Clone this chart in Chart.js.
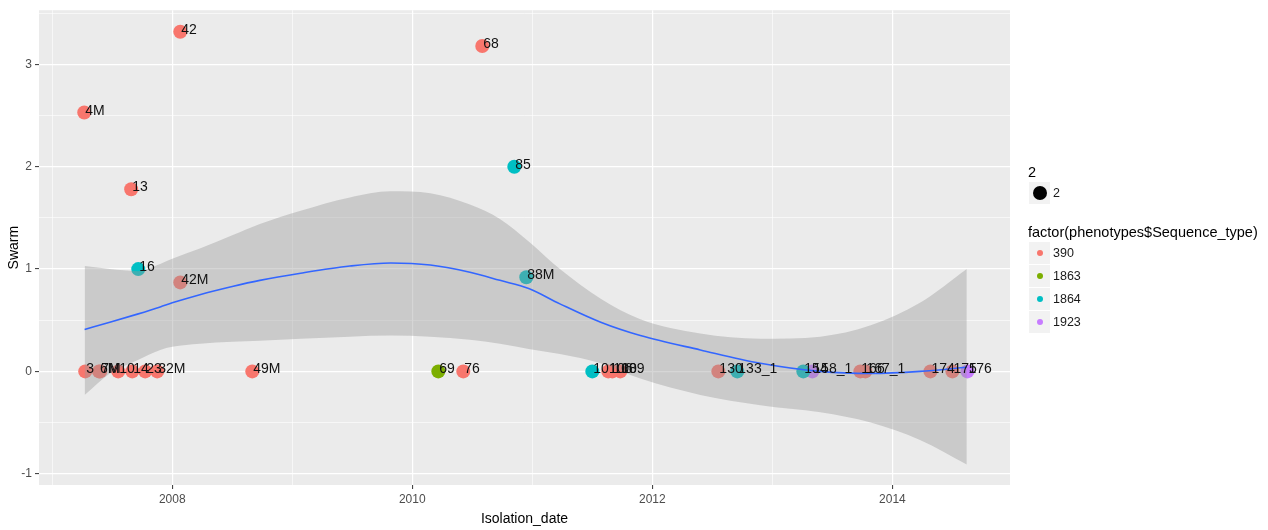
<!DOCTYPE html>
<html>
<head>
<meta charset="utf-8">
<script src="https://cdn.jsdelivr.net/npm/chart.js@4/dist/chart.umd.min.js"></script>
<style>
  html, body { margin: 0; padding: 0; background: #fff; }
  #wrap { position: relative; width: 1268px; height: 530px; font-family: "Liberation Sans", Arial, sans-serif; }
  #c { position: absolute; left: 0; top: 0; }
  .lt { position: absolute; color: #000; white-space: nowrap; }
  .key { position: absolute; width: 21px; height: 22px; background: #F2F2F2; }
  .dot { position: absolute; border-radius: 50%; }
  .kl { position: absolute; font-size: 12.5px; color: #1a1a1a; white-space: nowrap; line-height: 22px; }
</style>
</head>
<body>
<div id="wrap">
  <canvas id="c" width="1268" height="530"></canvas>
  <div id="legend"></div>
</div>
<script>
// Isolates per sequence type: label, isolation date (decimal year), swarm score
const st390Labels = ['3', '4M', '6M', '7M', '10', '13', '14', '23', '32M', '42', '42M', '49M', '68', '76', '106', '108', '109', '130', '166', '167_1', '174', '175'];
const st390Dates  = [2007.275, 2007.267, 2007.39, 2007.40, 2007.55, 2007.658, 2007.667, 2007.775, 2007.875, 2008.067, 2008.067, 2008.667, 2010.583, 2010.425, 2011.633, 2011.667, 2011.733, 2012.55, 2013.733, 2013.775, 2014.317, 2014.5];
const st390Swarm  = [0, 2.53, 0, 0, 0, 1.78, 0, 0, 0, 3.32, 0.87, 0, 3.18, 0, 0, 0, 0, 0, 0, 0, 0, 0];

const st1863Labels = ['69'];
const st1863Dates  = [2010.217];
const st1863Swarm  = [0];

const st1864Labels = ['16', '85', '88M', '101', '133_1', '154'];
const st1864Dates  = [2007.717, 2010.85, 2010.95, 2011.5, 2012.708, 2013.258];
const st1864Swarm  = [1.0, 2.0, 0.92, 0, 0, 0];

const st1923Labels = ['158_1', '176'];
const st1923Dates  = [2013.333, 2014.625];
const st1923Swarm  = [0, 0];

// Loess smoother with its confidence band
const smoothDates = [2007.27, 2007.48, 2007.71, 2007.9, 2008.0, 2008.23, 2008.5, 2008.73, 2009.07, 2009.48, 2009.82, 2010.15, 2010.48, 2010.73, 2010.97, 2011.23, 2011.57, 2011.9, 2012.4, 2012.9, 2013.4, 2013.82, 2014.23, 2014.62];
const smoothFit   = [0.41, 0.48, 0.56, 0.63, 0.67, 0.75, 0.83, 0.89, 0.96, 1.03, 1.06, 1.04, 0.97, 0.89, 0.81, 0.66, 0.48, 0.35, 0.21, 0.08, 0.0, -0.02, 0.0, 0.04];
const smoothUpper = [1.03, 1.0, 0.98, 1.05, 1.10, 1.20, 1.33, 1.44, 1.57, 1.70, 1.76, 1.74, 1.63, 1.49, 1.27, 1.0, 0.71, 0.51, 0.37, 0.32, 0.34, 0.45, 0.67, 1.0];
const smoothLower = [-0.23, -0.02, 0.11, 0.21, 0.24, 0.27, 0.29, 0.30, 0.32, 0.34, 0.35, 0.34, 0.31, 0.27, 0.22, 0.17, 0.08, -0.07, -0.23, -0.33, -0.40, -0.50, -0.67, -0.91];

const xTicks = [2007, 2008, 2009, 2010, 2011, 2012, 2013, 2014];
const yTicks = [-1, -0.5, 0, 0.5, 1, 1.5, 2, 2.5, 3, 3.5];

const seqTypes  = ['390', '1863', '1864', '1923'];
const seqColors = ['#F8766D', '#7CAE00', '#00BFC4', '#C77CFF'];

function pts(dates, vals) { return dates.map((d, i) => ({ x: d, y: vals[i] })); }

const groups = [
  [st390Labels, st390Dates, st390Swarm],
  [st1863Labels, st1863Dates, st1863Swarm],
  [st1864Labels, st1864Dates, st1864Swarm],
  [st1923Labels, st1923Dates, st1923Swarm]
];

const pointSets = groups.map((g, k) => ({
  label: seqTypes[k],
  data: pts(g[1], g[2]),
  pointLabels: g[0],
  backgroundColor: seqColors[k],
  borderColor: seqColors[k],
  borderWidth: 0,
  pointRadius: 7,
  showLine: false,
  order: 3
}));

const panelBg = {
  id: 'panelBg',
  beforeDraw(chart) {
    const { ctx, chartArea: a } = chart;
    ctx.save();
    ctx.fillStyle = '#EBEBEB';
    ctx.fillRect(a.left, a.top, a.right - a.left, a.bottom - a.top);
    ctx.restore();
  }
};

const isolateText = {
  id: 'isolateText',
  afterDatasetsDraw(chart) {
    const ctx = chart.ctx;
    ctx.save();
    ctx.font = '14px "Liberation Sans", Arial, sans-serif';
    ctx.fillStyle = '#111';
    ctx.textAlign = 'left';
    ctx.textBaseline = 'alphabetic';
    chart.data.datasets.forEach((ds, i) => {
      if (!ds.pointLabels) return;
      const meta = chart.getDatasetMeta(i);
      meta.data.forEach((el, j) => {
        ctx.fillText(ds.pointLabels[j], el.x + 1, el.y + 2);
      });
    });
    ctx.restore();
  }
};

const isMajorY = v => Number.isInteger(v);
const isMajorX = v => v % 2 === 0;

new Chart(document.getElementById('c'), {
  type: 'scatter',
  data: {
    datasets: [
      {
        label: 'fit',
        data: pts(smoothDates, smoothFit),
        showLine: true,
        borderColor: '#3366FF',
        borderWidth: 1.6,
        pointRadius: 0,
        cubicInterpolationMode: 'monotone',
        fill: false,
        order: 0
      },
      {
        label: 'upper',
        data: pts(smoothDates, smoothUpper),
        showLine: true,
        borderWidth: 0,
        borderColor: 'rgba(0,0,0,0)',
        pointRadius: 0,
        cubicInterpolationMode: 'monotone',
        fill: '+1',
        backgroundColor: 'rgba(153,153,153,0.4)',
        order: 1
      },
      {
        label: 'lower',
        data: pts(smoothDates, smoothLower),
        showLine: true,
        borderWidth: 0,
        borderColor: 'rgba(0,0,0,0)',
        pointRadius: 0,
        cubicInterpolationMode: 'monotone',
        fill: false,
        order: 2
      },
      ...pointSets
    ]
  },
  options: {
    responsive: false,
    animation: false,
    devicePixelRatio: 1,
    layout: { padding: { left: 0, top: 7, right: 258, bottom: 0 } },
    plugins: {
      legend: { display: false },
      tooltip: { enabled: false },
      filler: { drawTime: 'beforeDatasetDraw' }
    },
    scales: {
      x: {
        type: 'linear',
        min: 2006.89,
        max: 2014.98,
        afterBuildTicks: s => { s.ticks = xTicks.map(v => ({ value: v })); },
        afterFit: s => { s.height = 45; },
        border: { display: false },
        grid: {
          color: '#FFFFFF',
          lineWidth: c => (isMajorX(c.tick.value) ? 1.2 : 0.6),
          tickColor: c => (isMajorX(c.tick.value) ? '#333333' : 'rgba(0,0,0,0)'),
          tickLength: 4,
          tickWidth: 1
        },
        ticks: {
          autoSkip: false,
          maxRotation: 0,
          padding: 3,
          color: '#4D4D4D',
          font: { family: '"Liberation Sans", Arial, sans-serif', size: 12 },
          callback: v => (isMajorX(v) ? String(v) : '')
        },
        title: {
          display: true,
          text: 'Isolation_date',
          color: '#000',
          padding: { top: 0, bottom: 2 },
          font: { family: '"Liberation Sans", Arial, sans-serif', size: 14 }
        }
      },
      y: {
        type: 'linear',
        min: -1.11,
        max: 3.53,
        afterBuildTicks: s => { s.ticks = yTicks.map(v => ({ value: v })); },
        afterFit: s => { s.width = 39; },
        border: { display: false },
        grid: {
          color: '#FFFFFF',
          lineWidth: c => (isMajorY(c.tick.value) ? 1.2 : 0.6),
          tickColor: c => (isMajorY(c.tick.value) ? '#333333' : 'rgba(0,0,0,0)'),
          tickLength: 4,
          tickWidth: 1
        },
        ticks: {
          autoSkip: false,
          padding: 3,
          color: '#4D4D4D',
          font: { family: '"Liberation Sans", Arial, sans-serif', size: 12 },
          callback: v => (isMajorY(v) ? String(v) : '')
        },
        title: {
          display: true,
          text: 'Swarm',
          color: '#000',
          padding: { top: 6, bottom: 0 },
          font: { family: '"Liberation Sans", Arial, sans-serif', size: 14 }
        }
      }
    }
  },
  plugins: [panelBg, isolateText]
});

// Legends: point size and sequence type
(function buildLegend() {
  const lg = document.getElementById('legend');
  const add = (html) => lg.insertAdjacentHTML('beforeend', html);
  add('<div class="lt" style="left:1028px;top:163px;font-size:14.5px;line-height:18px;">2</div>');
  add('<div class="key" style="left:1029px;top:182px;"></div>');
  add('<div class="dot" style="left:1033px;top:186px;width:14px;height:14px;background:#000;"></div>');
  add('<div class="kl" style="left:1053px;top:182px;">2</div>');
  add('<div class="lt" style="left:1028px;top:223px;font-size:14.5px;line-height:18px;">factor(phenotypes$Sequence_type)</div>');
  seqTypes.forEach((t, i) => {
    const top = 242 + i * 23;
    add('<div class="key" style="left:1029px;top:' + top + 'px;"></div>');
    add('<div class="dot" style="left:1037px;top:' + (top + 8) + 'px;width:6px;height:6px;background:' + seqColors[i] + ';"></div>');
    add('<div class="kl" style="left:1053px;top:' + top + 'px;">' + t + '</div>');
  });
})();
</script>
</body>
</html>
